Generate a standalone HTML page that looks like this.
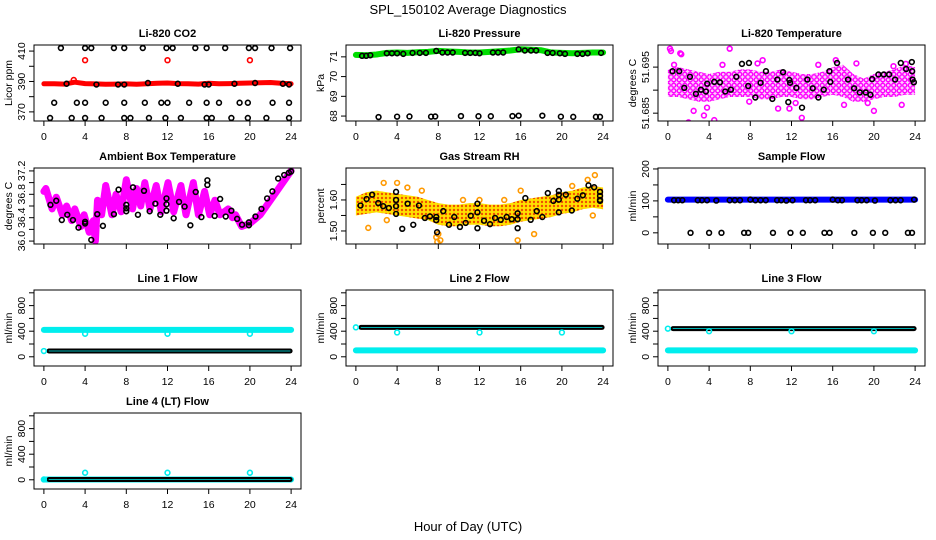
<!DOCTYPE html>
<html><head><meta charset="utf-8">
<style>
html,body{margin:0;padding:0;background:#fff;}
svg{display:block;font-family:"Liberation Sans",Arial,sans-serif;}
</style></head>
<body>
<svg id="chart" width="936" height="540" viewBox="0 0 936 540" xmlns="http://www.w3.org/2000/svg">
<defs>
<pattern id="magPat" width="5.5" height="5.5" patternUnits="userSpaceOnUse">
<rect width="5.5" height="5.5" fill="#fbd0fb"/><circle cx="2.75" cy="2.75" r="2" fill="none" stroke="#ff00ff" stroke-width="1.4"/>
</pattern>
<pattern id="orgPat" width="4" height="4" patternUnits="userSpaceOnUse">
<rect width="4" height="4" fill="#ffe000"/><circle cx="2" cy="2" r="1.2" fill="#f05000"/>
</pattern>
</defs>
<text x="468" y="14" font-size="13" text-anchor="middle">SPL_150102  Average Diagnostics</text>
<text x="468" y="531" font-size="13" text-anchor="middle">Hour of Day (UTC)</text>
</svg>
<script>
// ---------- data ----------
const xTicks = [0,4,8,12,16,20,24];
const hours = [0,1,2,3,4,5,6,7,8,9,10,11,12,13,14,15,16,17,18,19,20,21,22,23,24];

// CO2
const co2Red = [388.5,388.5,388.3,389.5,388.6,388.4,388.2,388.3,388.4,388.2,388.5,388.8,389,388.6,388.5,388.3,388.8,388.5,388.6,388.9,389,389.2,389.3,388.8,388.5];
const co2RedOutT = [2.9,4,12,20];
const co2RedOutV = [391,404,404,404];
const co2BlackT = [1.65,4.0,4.6,6.8,7.8,9.6,11.9,12.5,14.7,15.8,17.6,19.9,20.5,22.1,23.9, 1.0,3.2,4.0,6.0,7.8,9.8,11.4,12.0,14.1,15.8,17.0,19.0,19.8,22.2,23.8, 0.6,2.7,4.0,5.6,7.8,8.4,10.2,11.8,13.3,15.8,16.3,18.2,19.8,21.6,23.8, 2.2,5.1,7.2,7.8,10.1,13.0,15.6,16.0,18.5,20.5,23.2,23.8];
const co2BlackV = [412,412,412,412,412,412,412,412,412,412,412,412,412,412,412, 376,376,376,376,376,376,376,376,376,376,376,376,376,376,376, 366,366,366,366,366,366,366,366,366,366,366,366,366,366,366, 388.5,388,388,388,389,388.5,388,388,388.5,389,388.5,388];

// Pressure
const presGreen = [71.1,71.08,71.12,71.2,71.22,71.2,71.23,71.25,71.3,71.27,71.25,71.22,71.22,71.25,71.28,71.32,71.38,71.36,71.33,71.22,71.2,71.18,71.2,71.22,71.22];
const presBlackT = [0.6,1.0,1.4,3.0,3.5,4.0,4.6,5.5,6.2,6.8,7.8,8.4,8.9,9.4,10.6,11.1,11.6,12.0,13.3,13.8,14.3,15.8,16.4,17.0,17.5,18.6,19.1,19.8,20.3,21.5,22.0,22.5,23.8, 2.2,4.0,5.2,7.3,7.7,10.2,11.9,13.1,15.2,15.8,18.1,19.9,21.1,23.3,23.7];
const presBlackV = [71.05,71.05,71.08,71.18,71.18,71.18,71.15,71.2,71.2,71.2,71.3,71.22,71.22,71.22,71.2,71.2,71.2,71.18,71.22,71.22,71.22,71.38,71.32,71.32,71.32,71.2,71.2,71.18,71.15,71.15,71.15,71.18,71.2, 67.95,67.97,67.98,67.97,67.98,68.0,67.99,67.99,68.0,68.02,68.02,67.97,67.96,67.96,67.96];

// Li-820 temperature
const tempUpper = [51.6945,51.695,51.6945,51.694,51.6935,51.694,51.694,51.6945,51.6945,51.694,51.694,51.6945,51.694,51.6935,51.6935,51.694,51.695,51.6955,51.6935,51.6925,51.6935,51.694,51.6945,51.6955,51.695];
const tempLower = [51.6885,51.6885,51.688,51.6875,51.6875,51.688,51.6885,51.6885,51.6885,51.688,51.688,51.6885,51.6885,51.688,51.688,51.6885,51.689,51.6885,51.6875,51.6875,51.688,51.6885,51.6885,51.689,51.689];
const tempMagT = [0.2,0.3,1.2,1.3,6.0,9.2,2.5,2.0,4.5,3.5,13.0,20.0,16.3,11.8,7.9,10.7,0.6,5.3,8.7,14.6,18.3,21.9,23.1,3.8,12.4,17.1,19.4,22.7];
const tempMagV = [51.699,51.6985,51.698,51.6978,51.699,51.6965,51.6855,51.683,51.6835,51.6845,51.684,51.6855,51.6965,51.686,51.6875,51.686,51.6955,51.6955,51.6958,51.6955,51.6958,51.6952,51.6957,51.6862,51.6872,51.6868,51.6872,51.6868];
const tempBlackT = [0.45,1.1,1.59,2.14,2.72,3.21,3.69,3.82,4.5,5.05,5.57,6.12,6.64,7.19,7.8,7.87,8.49,9.0,9.52,10.14,10.63,11.18,11.69,11.79,11.86,12.47,13.02,13.54,14.06,14.61,15.13,15.68,15.77,16.42,17.49,18.08,18.63,19.21,19.66,19.83,20.44,20.96,21.48,22.06,22.61,23.13,23.68,23.71,23.75,23.88];
const tempBlackV = [51.6941,51.6941,51.6905,51.6929,51.6892,51.6901,51.6897,51.6914,51.6918,51.6917,51.6897,51.6901,51.6929,51.6957,51.6909,51.6959,51.6884,51.6916,51.6941,51.6881,51.6923,51.6939,51.6874,51.6922,51.6916,51.6905,51.6862,51.6923,51.6904,51.6884,51.6901,51.6941,51.6918,51.6959,51.6923,51.6904,51.6895,51.6895,51.689,51.6924,51.6934,51.6934,51.6934,51.6923,51.6959,51.6946,51.6961,51.6941,51.6923,51.6917];

// Ambient box temperature
const ambT = [0,0.2,0.8,1.2,1.8,2.2,2.7,3.0,3.6,3.9,4.4,4.8,5.0,5.2,5.6,6.0,6.6,7.0,7.5,8.0,8.6,9.0,9.4,9.8,10.3,10.9,11.4,12.05,12.6,13.3,13.8,14.5,15.0,15.6,16.1,16.6,17.1,17.9,18.3,18.6,19.2,20,21,22,23,24];
const ambV = [36.85,36.9,36.55,36.75,36.45,36.6,36.35,36.55,36.25,36.45,36.15,36.35,36.0,36.7,36.45,36.95,36.45,36.8,36.5,37.05,36.55,36.9,36.6,37.0,36.55,36.95,36.5,37.0,36.5,36.95,36.45,37.0,36.45,36.85,36.45,36.7,36.45,36.55,36.4,36.45,36.25,36.3,36.45,36.7,36.95,37.2];
const ambBlackT = [0.64,1.2,1.74,2.27,2.82,3.36,4.0,4.0,4.6,5.18,5.73,6.8,7.25,8.0,8.0,8.0,8.65,9.13,9.72,10.27,10.82,11.3,11.9,11.9,11.9,12.6,13.12,13.66,14.22,14.74,15.29,15.87,15.87,16.58,17.11,17.65,18.2,18.76,19.24,19.9,19.9,20.54,21.12,21.67,22.18,22.74,23.33,23.78,24.0];
const ambBlackV = [36.62,36.69,36.36,36.45,36.36,36.23,36.33,36.3,36.02,36.46,36.26,36.46,36.88,36.62,36.56,36.51,36.92,36.45,36.86,36.51,36.64,36.45,36.52,36.63,36.73,36.39,36.67,36.59,36.27,36.84,36.41,37.04,36.96,36.43,36.72,36.42,36.52,36.38,36.28,36.32,36.27,36.42,36.55,36.73,36.85,37.07,37.13,37.17,37.19];

// Gas stream RH
const rhUpper = [1.61,1.625,1.63,1.625,1.62,1.615,1.61,1.60,1.59,1.585,1.585,1.59,1.59,1.585,1.585,1.59,1.60,1.605,1.61,1.615,1.625,1.63,1.64,1.645,1.64];
const rhLower = [1.55,1.555,1.56,1.555,1.55,1.545,1.54,1.535,1.52,1.515,1.515,1.52,1.52,1.515,1.515,1.52,1.53,1.535,1.54,1.545,1.555,1.56,1.57,1.575,1.57];
const rhOrangeT = [1.2,2.7,4.0,7.8,8.2,6.4,12.0,14.4,15.7,17.3,21.0,22.5,23.2,23.0,16.0,5.0,3.0,10.4,7.9,8.0];
const rhOrangeV = [1.51,1.655,1.655,1.48,1.47,1.63,1.6,1.6,1.47,1.49,1.645,1.665,1.68,1.55,1.63,1.64,1.535,1.6,1.465,1.49];
const rhBlackT = [0.45,1.04,1.58,2.17,2.65,3.2,3.9,3.9,3.9,3.9,4.5,5.02,5.57,6.12,6.7,7.19,7.8,7.8,7.88,8.48,9.04,9.55,10.1,10.66,11.15,11.8,11.8,11.8,12.44,13.02,13.51,14.06,14.64,15.13,15.7,15.7,15.7,16.45,16.97,17.56,18.1,18.63,19.17,19.7,19.7,19.7,19.7,20.38,20.96,21.5,22.03,22.58,23.13,23.7,23.7,23.7,23.7];
const rhBlackV = [1.582,1.603,1.617,1.59,1.58,1.574,1.58,1.60,1.626,1.555,1.507,1.588,1.52,1.582,1.542,1.547,1.535,1.545,1.496,1.564,1.52,1.545,1.513,1.526,1.549,1.509,1.56,1.588,1.533,1.522,1.542,1.536,1.545,1.538,1.538,1.557,1.509,1.606,1.536,1.564,1.545,1.622,1.597,1.56,1.601,1.617,1.629,1.617,1.566,1.604,1.615,1.647,1.641,1.597,1.626,1.613,1.6];

// Sample flow
const sampleBlue = [104,104,104,104,104,104,104,104,104,104,104,104,104,104,104,104,104,104,104,104,104,104,104,104,104];
const sampleBlackT = [0.6,1.0,1.4,2.9,3.3,3.8,4.7,6.0,6.5,7.0,8.0,8.5,9.0,9.5,10.6,11.0,11.5,12.1,13.4,13.8,14.3,16.0,16.5,16.9,18.4,18.8,19.3,20.1,21.6,22.1,22.6,23.9, 2.2,4.0,5.2,7.4,7.8,10.2,11.9,13.1,15.2,15.7,18.1,19.9,21.1,23.3,23.7];
const sampleBlackV = [102,102,102,102,102,102,101,102,102,102,104,102,102,102,102,102,101,102,102,102,102,104,102,102,102,102,102,101,102,102,102,104, 0,0,0,0,0,0,0,0,0,0,0,0,0,0,0];

// Flows: band levels [cyan, black] and outliers
const flowCyanLevel  = [420, 100, 100, 5];
const flowBlackLevel = [90, 460, 440, 5];
const flowStartV     = [90, 460, 440, 5];
const flowOutT = [4, 12, 20];
const flowOutV = [360, 380, 400, 110];

// ---------- drawing ----------
const NS = 'http://www.w3.org/2000/svg';
const svg = document.getElementById('chart');
function mk(tag, attrs, parent){ const e=document.createElementNS(NS,tag); for(const k in attrs) e.setAttribute(k,attrs[k]); (parent||svg).appendChild(e); return e; }

const BOXW = 267, BOXH = 76;
function panel(col,row,title,ylab,ymin,ymax,yt,yl,showX){
  const L = 34 + 312*col, T = Math.round(45 + 122.7*row), R=L+BOXW, B=T+BOXH;
  const g = mk('g',{});
  
  
  const x = t => L + BOXW*(t+0.96)/25.92;
  const y = v => B - BOXH*(v-ymin)/(ymax-ymin);
  const plot = mk('g',{},g);
  
  
  const box = mk('rect',{x:L,y:T,width:BOXW,height:BOXH,fill:'none',stroke:'#000','stroke-width':1},g);
  
  
  const tt = mk('text',{x:L+BOXW/2,y:T-8,'font-size':11,'font-weight':'bold','text-anchor':'middle'},g);
  tt.textContent = title;
  
  
  const yl2 = mk('text',{transform:`translate(${L-22},${(T+B)/2}) rotate(-90)`,'font-size':10.5,'text-anchor':'middle'},g);
  yl2.textContent = ylab;
  
  
  mk('line',{x1:x(0),x2:x(24),y1:B,y2:B,stroke:'#000'},g);
  xTicks.forEach(t=>{
    const tk = mk('line',{x1:x(t),x2:x(t),y1:B,y2:B+5,stroke:'#000'},g);
    
    
    if(showX){
      const lb = mk('text',{x:x(t),y:B+19,'font-size':10.5,'text-anchor':'middle'},g);
      lb.textContent = t;
      
      
    }
  });
  mk('line',{x1:L,x2:L,y1:y(yt[0]),y2:y(yt[yt.length-1]),stroke:'#000'},g);
  yt.forEach((v,i)=>{
    const tk = mk('line',{x1:L-5,x2:L,y1:y(v),y2:y(v),stroke:'#000'},g);
    
    
    if(yl[i]!==''){
      const lb = mk('text',{transform:`translate(${L-9},${y(v)}) rotate(-90)`,'font-size':10.5,'text-anchor':'middle'},g);
      lb.textContent = yl[i];
      
      
    }
  });
  const clip = 'c'+col+'_'+row;
  const cp = mk('clipPath',{id:clip},g); mk('rect',{x:L,y:T,width:BOXW,height:BOXH},cp);
  plot.setAttribute('clip-path',`url(#${clip})`);
  return {x,y,plot};
}
function pts(P,ts,vs,color,name,r){
  ts.forEach((t,i)=>{
    const c = mk('circle',{cx:P.x(t),cy:P.y(vs[i]),r:r||2.4,fill:'none',stroke:color,'stroke-width':1.6},P.plot);
    
    
  });
}
function band(P,ts,vs,color,w,name){
  const d = ts.map((t,i)=>(i?'L':'M')+P.x(t).toFixed(1)+' '+P.y(vs[i]).toFixed(1)).join(' ');
  const p = mk('path',{d,fill:'none',stroke:color,'stroke-width':w,'stroke-linejoin':'round','stroke-linecap':'round'},P.plot);
  
  
}
function area(P,ts,up,lo,fill,name){
  let d = ts.map((t,i)=>(i?'L':'M')+P.x(t).toFixed(1)+' '+P.y(up[i]).toFixed(1)).join(' ');
  for(let i=ts.length-1;i>=0;i--) d += ' L'+P.x(ts[i]).toFixed(1)+' '+P.y(lo[i]).toFixed(1);
  const p = mk('path',{d:d+' Z',fill,stroke:'none'},P.plot);
  
  
}

let P = panel(0,0,'Li-820 CO2','Licor ppm',364,414,[370,380,390,400,410],['370','','390','','410'],true);
band(P,hours,co2Red,'#ff0000',5,'co2-red-series');
pts(P,co2RedOutT,co2RedOutV,'#ff0000','co2-red-outlier');
pts(P,co2BlackT,co2BlackV,'#000','co2-black-point');

P = panel(1,0,'Li-820 Pressure','kPa',67.75,71.6,[68,69,70,71],['68','69','70','71'],true);
band(P,hours,presGreen,'#00dd00',6,'pressure-green-series');
pts(P,presBlackT,presBlackV,'#000','pressure-black-point');

P = panel(2,0,'Li-820 Temperature','degrees C',51.6833,51.6998,[51.685,51.690,51.695],['51.685','','51.695'],true);
area(P,hours,tempUpper,tempLower,'url(#magPat)','temperature-magenta-band');
pts(P,tempMagT,tempMagV,'#ff00ff','temperature-magenta-point');
pts(P,tempBlackT,tempBlackV,'#000','temperature-black-point');

P = panel(0,1,'Ambient Box Temperature','degrees C',35.95,37.25,[36.0,36.2,36.4,36.6,36.8,37.0,37.2],['36.0','','36.4','','36.8','','37.2'],false);
band(P,ambT,ambV,'#ff00ff',7,'ambient-magenta-series');
pts(P,ambBlackT,ambBlackV,'#000','ambient-black-point');

P = panel(1,1,'Gas Stream RH','percent',1.458,1.703,[1.50,1.55,1.60,1.65],['1.50','','1.60',''],false);
area(P,hours,rhUpper,rhLower,'url(#orgPat)','rh-orange-band');
pts(P,rhOrangeT,rhOrangeV,'#ff9900','rh-orange-point');
pts(P,rhBlackT,rhBlackV,'#000','rh-black-point');

P = panel(2,1,'Sample Flow','ml/min',-35,203,[0,50,100,150,200],['0','','100','','200'],false);
band(P,hours,sampleBlue,'#0000ff',6,'sample-flow-blue-series');
pts(P,sampleBlackT,sampleBlackV,'#000','sample-flow-black-point');

const flowTitles = ['Line 1 Flow','Line 2 Flow','Line 3 Flow','Line 4 (LT) Flow'];
const flowPos = [[0,2],[1,2],[2,2],[0,3]];
flowTitles.forEach((ttl,k)=>{
  const Q = panel(flowPos[k][0],flowPos[k][1],ttl,'ml/min',-144,1044,[0,200,400,600,800,1000],['0','','400','','800',''],true);
  const cy = hours.map(()=>flowCyanLevel[k]);
  const bk = hours.slice(1).map(()=>flowBlackLevel[k]);
  const bt = hours.slice(1).map((h,i)=> i===0 ? 0.5 : h);
  bt[bt.length-1]=23.9;
  band(Q,hours,cy,'#00eeee',6,'flow-cyan-series');
  band(Q,bt,bk,'#000',5,'flow-black-series');
  band(Q,bt,bk,'#00eeee',0.8,'flow-black-series-inner');
  pts(Q,[0],[flowStartV[k]],'#00eeee','flow-start-point');
  pts(Q,flowOutT,flowOutT.map(()=>flowOutV[k]),'#00eeee','flow-cyan-outlier');
});
</script>
</body></html>
